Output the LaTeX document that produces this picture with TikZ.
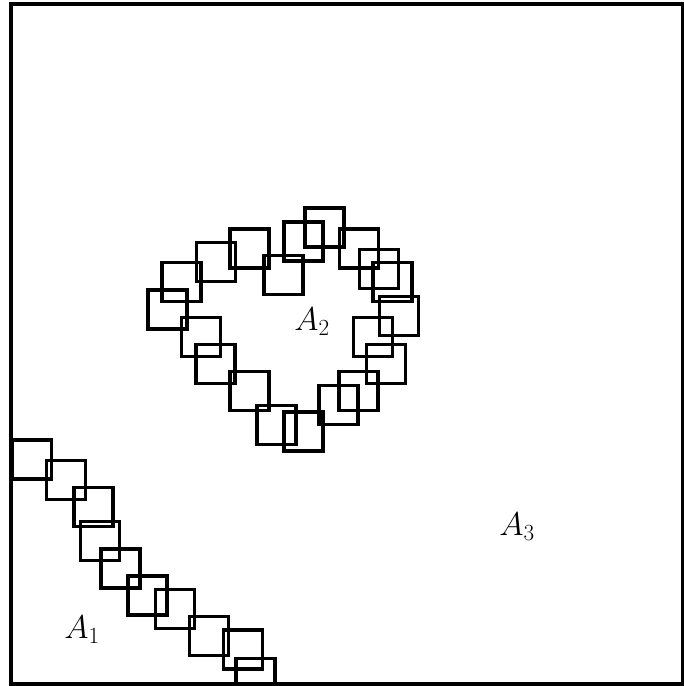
\RequirePackage{fix-cm}
\documentclass[tikz,border=0pt]{standalone}
\begin{document}
\begin{tikzpicture}[x=1pt,y=-1pt,
  sq/.style={draw=black,line width=3.5pt,minimum size=39pt,inner sep=0pt},
  lab/.style={font=\fontsize{33}{38}\selectfont,inner sep=0pt}]
\useasboundingbox (0,0) rectangle (684,686);
\begin{scope}
\clip (11,3.7) rectangle (683,684);
\foreach \n/\cx/\cy in {a/167.5/309.5,b/181.5/282,c/216/262,d/249.5/248.5,e/283.5/275,
  f/303.5/241.5,g/324.5/227.5,h/359/248.5,i/379/269,j/392.5/282,
  k/399/316,l/373/337,m/386/364,n/358.5/391,o/338.5/405,
  p/303.5/431.5,q/276.5/425,r/249.5/391,s/215.5/364,t/201/337,
  d1/32/459.5,d2/66/480,d3/93.3/507,d4/100/541,d5/120.3/568.3,
  d6/147.5/595.7,d7/175/609,d8/209/636,d9/243/649.7,d10/255.5/678}
  \node[sq] (\n) at (\cx,\cy) {};
\end{scope}
\draw[line width=4pt] (11,3.7) rectangle (683,684);
\node[lab] (A1) at (82,630) {$A_1$};
\node[lab] (A2) at (312,322) {$A_2$};
\node[lab] (A3) at (517,527) {$A_3$};
\end{tikzpicture}
\end{document}
